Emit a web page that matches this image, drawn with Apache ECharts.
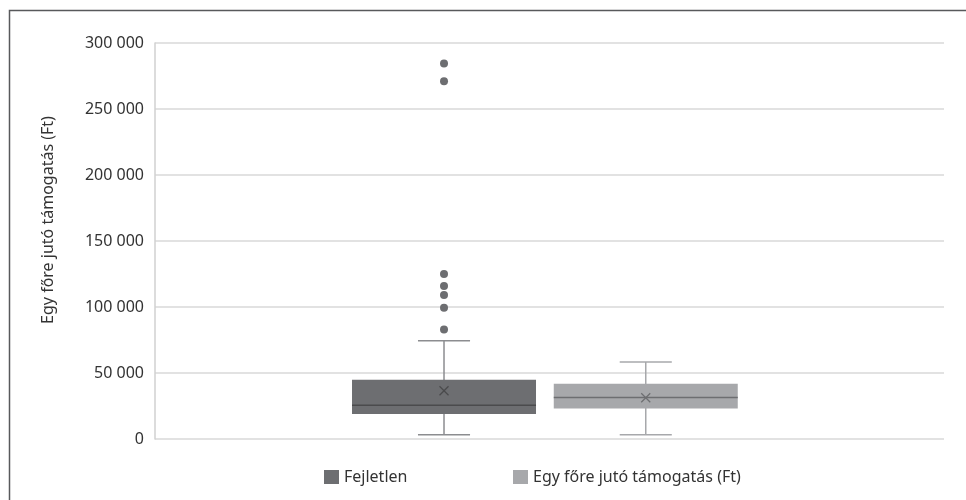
<!DOCTYPE html>
<html><head><meta charset="utf-8">
<script src="https://cdn.jsdelivr.net/npm/echarts@6/dist/echarts.min.js"></script>
<style>html,body{margin:0;padding:0;background:#fff}#main{width:966px;height:500px}</style>
</head><body><div id="main"></div><script>
// ---- data ----
const seriesNames = ['Fejletlen', 'Egy főre jutó támogatás (Ft)'];
const whiskerLow = [3300, 3300];
const quartile1 = [19000, 23200];
const medians = [25500, 31500];
const quartile3 = [44900, 41900];
const whiskerHigh = [74500, 58300];
const means = [36600, 31200];
const outliersFejletlen = [284500, 271000, 125000, 116000, 109000, 99500, 83000];
const yTickValues = [0, 50000, 100000, 150000, 200000, 250000, 300000];

// ---- layout / style ----
const BOX_CENTER = [0.3663, 0.622];
const BOX_WIDTH = 0.2332;
const CAP_WIDTH = 0.066;
const fills = ['#6d6e71', '#a7a8ab'];
const medianColors = ['#4b4b4d', '#6d6e71'];
const whiskerColors = ['#8c8d90', '#a7a8ab'];
const meanColors = ['#4b4b4d', '#6d6e71'];
const FONT = 'Noto Sans';
const FS = 16;

function fmt(v) { return String(v).replace(/\B(?=(\d{3})+(?!\d))/g, ' '); }

function makeRender(i) {
  return function (params, api) {
    const cx = BOX_CENTER[i];
    const pLow = api.coord([cx, api.value(0)]);
    const pQ1 = api.coord([cx, api.value(1)]);
    const pMed = api.coord([cx, api.value(2)]);
    const pQ3 = api.coord([cx, api.value(3)]);
    const pHigh = api.coord([cx, api.value(4)]);
    const pMean = api.coord([cx, api.value(5)]);
    const w = api.size([BOX_WIDTH, 0])[0];
    const cw = api.size([CAP_WIDTH, 0])[0];
    const x = pLow[0];
    const ws = { stroke: whiskerColors[i], lineWidth: 1.5 };
    const m = 4.5;
    return {
      type: 'group',
      children: [
        { type: 'line', shape: { x1: x, y1: pLow[1], x2: x, y2: pHigh[1] }, style: ws },
        { type: 'line', shape: { x1: x - cw / 2, y1: pLow[1], x2: x + cw / 2, y2: pLow[1] }, style: ws },
        { type: 'line', shape: { x1: x - cw / 2, y1: pHigh[1], x2: x + cw / 2, y2: pHigh[1] }, style: ws },
        { type: 'rect', shape: { x: x - w / 2, y: pQ3[1], width: w, height: pQ1[1] - pQ3[1] }, style: { fill: fills[i] } },
        { type: 'line', shape: { x1: x - w / 2, y1: pMed[1], x2: x + w / 2, y2: pMed[1] }, style: { stroke: medianColors[i], lineWidth: 1.5 } },
        { type: 'line', shape: { x1: x - m, y1: pMean[1] - m, x2: x + m, y2: pMean[1] + m }, style: { stroke: meanColors[i], lineWidth: 1.3 } },
        { type: 'line', shape: { x1: x - m, y1: pMean[1] + m, x2: x + m, y2: pMean[1] - m }, style: { stroke: meanColors[i], lineWidth: 1.3 } }
      ]
    };
  };
}

const chart = echarts.init(document.getElementById('main'));
const boxSeries = seriesNames.map(function (name, i) {
  return {
    type: 'custom',
    name: name,
    itemStyle: { color: fills[i] },
    encode: { y: [0, 1, 2, 3, 4, 5] },
    renderItem: makeRender(i),
    data: [[whiskerLow[i], quartile1[i], medians[i], quartile3[i], whiskerHigh[i], means[i]]],
    z: 3
  };
});

chart.setOption({
  animation: false,
  color: fills,
  textStyle: { fontFamily: FONT },
  graphic: [{
    type: 'rect', silent: true,
    shape: { x: 9.5, y: 10.5, width: 1200, height: 800 },
    style: { fill: 'none', stroke: '#58595b', lineWidth: 1.5 }
  }],
  grid: { left: 155, right: 22, top: 43, bottom: 61, containLabel: false },
  legend: [
    { data: [{ name: seriesNames[0], icon: 'rect' }], left: 319, top: 464, itemWidth: 15, itemHeight: 14, itemGap: 0,
      textStyle: { fontFamily: FONT, fontSize: FS, color: '#333' }, selectedMode: false },
    { data: [{ name: seriesNames[1], icon: 'rect' }], left: 508, top: 464, itemWidth: 15, itemHeight: 14, itemGap: 0,
      textStyle: { fontFamily: FONT, fontSize: FS, color: '#333' }, selectedMode: false }
  ],
  xAxis: { type: 'value', min: 0, max: 1, show: false },
  yAxis: {
    type: 'value', min: 0, max: 300000, interval: 50000,
    name: 'Egy főre jutó támogatás (Ft)', nameLocation: 'middle', nameGap: 99,
    nameTextStyle: { fontFamily: FONT, fontSize: FS, color: '#333', padding: [0, 0, 0, 42] },
    axisLine: { show: true, lineStyle: { color: '#d0d0d0', width: 1.5 } },
    axisTick: { show: false },
    splitLine: { lineStyle: { color: '#d9d9d9', width: 1.5 } },
    axisLabel: {
      fontFamily: FONT, fontSize: FS, color: '#333', margin: 11,
      formatter: function (v) { return yTickValues.indexOf(v) >= 0 ? fmt(v) : ''; }
    }
  },
  series: boxSeries.concat([{
    type: 'scatter',
    symbol: 'circle', symbolSize: 8,
    itemStyle: { color: '#6d6e71', opacity: 1 },
    data: outliersFejletlen.map(function (v) { return [BOX_CENTER[0], v]; }),
    z: 4
  }])
});
</script></body></html>
